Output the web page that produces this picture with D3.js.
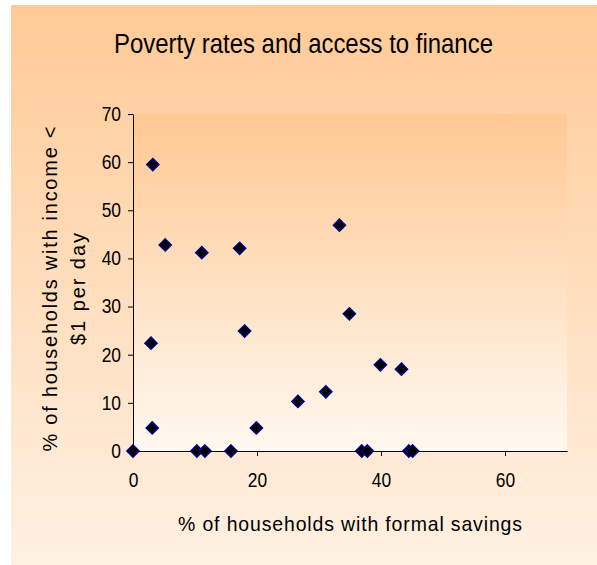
<!DOCTYPE html>
<html>
<head>
<meta charset="utf-8">
<script src="https://cdn.jsdelivr.net/npm/d3@7"></script>
<style>
  html, body { margin: 0; padding: 0; background: #ffffff; }
  svg { display: block; }
  text { font-family: "Liberation Sans", Arial, sans-serif; fill: #000; }
</style>
</head>
<body>
<svg id="chart" width="597" height="565"></svg>
<script>
const title = "Poverty rates and access to finance";
const xTitle = "% of households with formal savings";
const yTitleLines = ["% of households with income <", "$1 per day"];

const savings = [0, 3.2, 2.9, 3.1, 5.2, 11.1, 10.3, 11.6, 15.8, 17.2, 18.0, 19.9, 26.6, 31.1, 33.3, 34.9, 39.9, 43.3, 36.9, 37.8, 44.5, 45.1];
const poverty = [0, 59.5, 22.4, 4.8, 42.8, 41.2, 0, 0, 0, 42.1, 24.9, 4.8, 10.3, 12.3, 46.9, 28.5, 17.9, 17.0, 0, 0, 0, 0];

const xTicks = [0, 20, 40, 60];
const yTicks = [0, 10, 20, 30, 40, 50, 60, 70];

const SX = 0.87; // horizontal condensing of glyphs seen in the reference

const svg = d3.select("#chart");
const defs = svg.append("defs");

const outerGrad = defs.append("linearGradient").attr("id", "outerGrad")
  .attr("x1", 0).attr("y1", 0).attr("x2", 0).attr("y2", 1);
outerGrad.append("stop").attr("offset", "0%").attr("stop-color", "#FFCA96");
outerGrad.append("stop").attr("offset", "100%").attr("stop-color", "#FFF1E3");

const plotGrad = defs.append("linearGradient").attr("id", "plotGrad")
  .attr("x1", 0).attr("y1", 0).attr("x2", 0).attr("y2", 1);
plotGrad.append("stop").attr("offset", "0%").attr("stop-color", "#FFC893");
plotGrad.append("stop").attr("offset", "100%").attr("stop-color", "#FFF8F0");

svg.append("rect").attr("x", 11).attr("y", 5).attr("width", 586).attr("height", 560)
  .attr("fill", "url(#outerGrad)");

const margin = { left: 133, top: 114, right: 567, bottom: 451 };
const x = d3.scaleLinear().domain([0, 70]).range([margin.left, margin.right]);
const y = d3.scaleLinear().domain([0, 70]).range([margin.bottom, margin.top]);

svg.append("rect").attr("x", margin.left).attr("y", margin.top)
  .attr("width", margin.right - margin.left).attr("height", margin.bottom - margin.top)
  .attr("fill", "url(#plotGrad)");

const xAxis = svg.append("g").attr("transform", `translate(0,${margin.bottom})`)
  .call(d3.axisBottom(x).tickValues(xTicks).tickSize(5).tickPadding(17).tickSizeOuter(0));
const yAxis = svg.append("g").attr("transform", `translate(${margin.left},0)`)
  .call(d3.axisLeft(y).tickValues(yTicks).tickSize(5).tickPadding(8).tickSizeOuter(0));

[xAxis, yAxis].forEach(g => {
  g.select(".domain").attr("stroke", "#000").attr("stroke-width", 1);
  g.selectAll(".tick line").attr("stroke", "#000");
  g.selectAll(".tick text").style("font-family", "Liberation Sans, Arial, sans-serif")
    .style("font-size", "20px").attr("fill", "#000")
    .attr("transform", `scale(${SX},1)`);
});
yAxis.selectAll(".tick text").attr("x", -12 / SX);

function condensedText(cx, cy, str, size, sx, len) {
  const g = svg.append("g").attr("transform", `translate(${cx},${cy}) scale(${sx},1)`);
  const t = g.append("text").attr("x", 0).attr("y", 0).attr("text-anchor", "middle")
    .style("font-size", size + "px").text(str);
  if (len) {
    t.attr("textLength", len / sx).attr("lengthAdjust", "spacing");
  }
  return t;
}

condensedText(303.5, 53, title, 27.5, SX);
condensedText((margin.left + margin.right) / 2, 531, xTitle, 20.5, 0.95, 344);

const yt = svg.append("g").attr("transform", `translate(57,${289}) rotate(-90)`);
yTitleLines.forEach((line, i) => {
  const t = yt.append("text").attr("x", 0).attr("y", i * 28).attr("text-anchor", "middle")
    .style("font-size", "20px").text(line);
  if (i === 0) t.attr("textLength", 325).attr("lengthAdjust", "spacing");
  else t.attr("textLength", 112).attr("lengthAdjust", "spacing");
});

const pts = savings.map((s, i) => ({ s, p: poverty[i] }));
svg.append("g").selectAll("path").data(pts).join("path")
  .attr("transform", d => `translate(${x(d.s)},${y(d.p)})`)
  .attr("d", "M0,-6 L6,0 L0,6 L-6,0 Z")
  .attr("fill", "#000")
  .attr("stroke", "#000080")
  .attr("stroke-width", 1.6);
</script>
</body>
</html>
